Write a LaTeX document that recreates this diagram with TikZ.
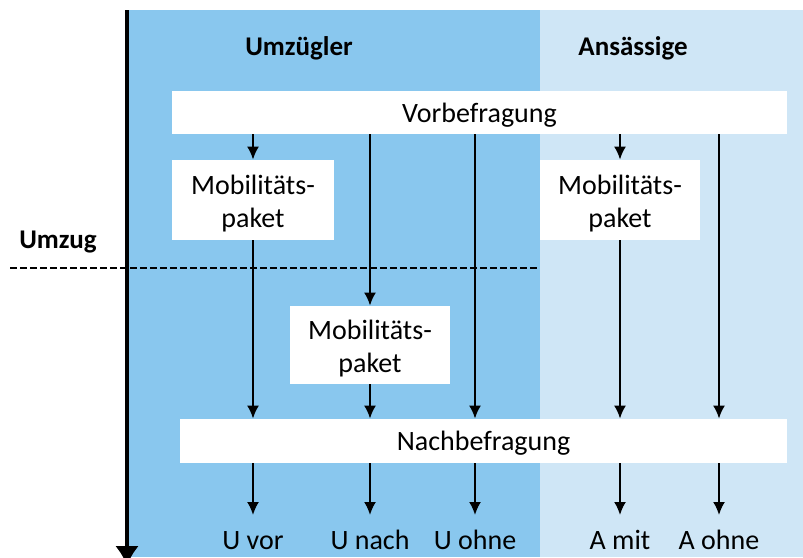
\documentclass[tikz,border=0pt]{standalone}
\usepackage{fontspec}
\setmainfont{Carlito}
\usepackage{tikz}
\usetikzlibrary{arrows.meta}
\tikzset{>={Latex[length=6.5pt,width=6pt]}}
\definecolor{movedblue}{RGB}{137,199,238}
\definecolor{stayblue}{RGB}{207,230,246}
\tikzset{
  surveybox/.style={fill=white, inner sep=0pt, align=center, font=\fontsize{14}{16.5}\selectfont},
  onerow/.style={text height=13pt, text depth=3.5pt},
  tworow/.style={text height=31pt, text depth=3.5pt},
  outcome/.style={anchor=north, inner xsep=0pt, inner ysep=7.5pt, text height=9.5pt, text depth=3pt, font=\fontsize{14}{16.5}\selectfont},
  grouphead/.style={font=\fontsize{13.5}{16.5}\selectfont\bfseries},
  flow/.style={->, line width=1pt}
}

\begin{document}
\begin{tikzpicture}[x=0.5pt,y=-0.5pt]
      \useasboundingbox (0,0) rectangle (803,557);
      \fill[movedblue] (128,10) rectangle (540,557);
      \fill[stayblue] (540,10) rectangle (803,557);
      \draw[dash pattern=on 3.5pt off 1.5pt, line width=0.6pt] (10,268) -- (537,268);
      \draw[line width=2pt, -{Latex[length=10pt,width=12pt]}] (127,10) -- (127,566);
      \node[grouphead] (umzug) at (58,242) {Umzug};
      \node[grouphead] (umz) at (299,48) {Umzügler};
      \node[grouphead] (ans) at (633,48) {Ansässige};
      % Befragungen
      \node[surveybox, onerow, minimum width=307.5pt, minimum height=21.5pt] (vor) at (479.5,112.5) {Vorbefragung};
      \node[surveybox, onerow, minimum width=303.5pt, minimum height=22pt] (nach) at (483.5,441) {Nachbefragung};
      \node[surveybox, tworow, minimum width=81pt, minimum height=40pt] (mob1) at (253,200) {Mobilitäts-\\paket};
      \node[surveybox, tworow, minimum width=80pt, minimum height=40pt] (mob2) at (620,200) {Mobilitäts-\\paket};
      \node[surveybox, tworow, minimum width=80pt, minimum height=39pt] (mob3) at (370,345) {Mobilitäts-\\paket};
      % Gruppen
      \node[outcome] (uvor) at (253,515) {U vor};
      \node[outcome] (unach) at (370,515) {U nach};
      \node[outcome] (uohne) at (475,515) {U ohne};
      \node[outcome] (amit) at (620,515) {A mit};
      \node[outcome] (aohne) at (719,515) {A ohne};
      \draw[flow] (vor.south -| mob1) -- (mob1);
      \draw[flow] (vor.south -| mob3) -- (mob3);
      \draw[flow] (vor.south -| uohne) -- (nach.north -| uohne);
      \draw[flow] (vor.south -| mob2) -- (mob2);
      \draw[flow] (vor.south -| aohne) -- (nach.north -| aohne);
      \draw[flow] (mob1) -- (nach.north -| mob1);
      \draw[flow] (mob3) -- (nach.north -| mob3);
      \draw[flow] (mob2) -- (nach.north -| mob2);
      \foreach \g in {uvor,unach,uohne,amit,aohne}
        \draw[flow] (nach.south -| \g) -- (\g);
\end{tikzpicture}
\end{document}
